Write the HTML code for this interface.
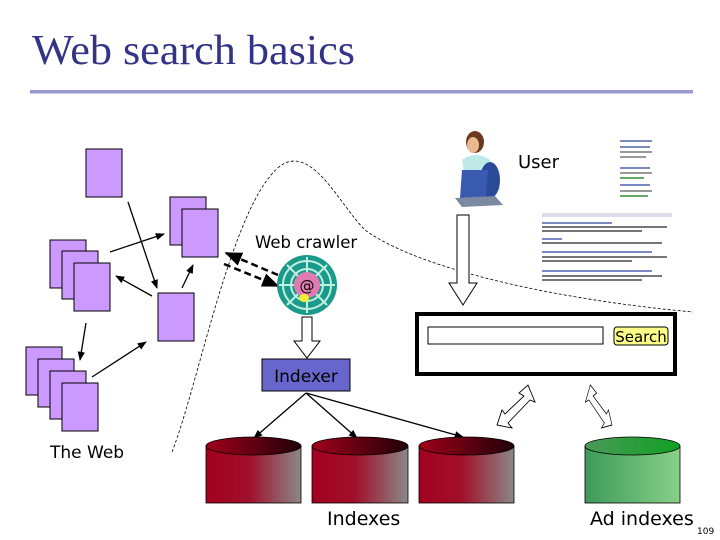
<!DOCTYPE html>
<html><head><meta charset="utf-8"><style>body{margin:0;background:#fff}svg{display:block}</style></head>
<body>
<svg width="720" height="540" viewBox="0 0 720 540" xmlns="http://www.w3.org/2000/svg" font-family="'DejaVu Sans','Liberation Sans',sans-serif">
<defs>
<marker id="ah" viewBox="0 0 10 10" refX="9" refY="5" markerWidth="7" markerHeight="7" orient="auto"><path d="M0,1 L10,5 L0,9 z" fill="#000"/></marker>
<linearGradient id="red" x1="0" x2="1"><stop offset="0" stop-color="#a30020"/><stop offset="0.45" stop-color="#a0102a"/><stop offset="1" stop-color="#8a8888"/></linearGradient>
<linearGradient id="redtop" x1="0" x2="1"><stop offset="0" stop-color="#a0001a"/><stop offset="1" stop-color="#200008"/></linearGradient>
<linearGradient id="grn" x1="0" x2="1"><stop offset="0" stop-color="#3e9a5a"/><stop offset="1" stop-color="#88d088"/></linearGradient>
<linearGradient id="grntop" x1="0" x2="1"><stop offset="0" stop-color="#4a9a5a"/><stop offset="1" stop-color="#10a020"/></linearGradient>
</defs>
<text x="32" y="64" font-family="'Liberation Serif',serif" font-size="42" fill="#333388" textLength="323" lengthAdjust="spacingAndGlyphs">Web search basics</text>
<rect x="30" y="90" width="663" height="3.5" fill="#9999cc"/>

<path d="M172,452 C200,380 235,190 285,163 C315,150 340,205 365,230 C420,270 560,300 693,312" fill="none" stroke="#000" stroke-width="0.8" stroke-dasharray="3,2"/>

<g fill="#cc99ff" stroke="#000" stroke-width="1">
<rect x="86" y="149" width="36" height="48"/>
<rect x="170" y="197" width="36" height="48"/><rect x="182" y="209" width="36" height="48"/>
<rect x="50" y="240" width="36" height="48"/><rect x="62" y="251" width="36" height="48"/><rect x="74" y="263" width="36" height="48"/>
<rect x="158" y="293" width="36" height="48"/>
<rect x="26" y="347" width="36" height="48"/><rect x="38" y="359" width="36" height="48"/><rect x="50" y="371" width="36" height="48"/><rect x="62" y="383" width="36" height="48"/>
</g>
<g stroke="#000" stroke-width="1.3" marker-end="url(#ah)">
<line x1="128" y1="202" x2="157" y2="288"/>
<line x1="110" y1="252" x2="164" y2="234"/>
<line x1="152" y1="296" x2="116" y2="276"/>
<line x1="182" y1="288" x2="193" y2="265"/>
<line x1="86" y1="323" x2="80" y2="360"/>
<line x1="92" y1="377" x2="146" y2="342"/>
</g>
<g stroke="#000" stroke-width="2.5" stroke-dasharray="7,4">
<line x1="278" y1="275" x2="226" y2="253" marker-end="url(#ah)"/>
<line x1="224" y1="264" x2="278" y2="286" marker-end="url(#ah)"/>
</g>
<text x="255" y="248" font-size="16.5">Web crawler</text>
<circle cx="307" cy="285" r="30" fill="#1a9a8a"/>
<g stroke="#bff0e0" stroke-width="2" fill="none">
<circle cx="307" cy="285" r="24"/><circle cx="307" cy="285" r="16"/>
<line x1="279" y1="285" x2="335" y2="285"/><line x1="307" y1="257" x2="307" y2="313"/>
<line x1="287" y1="265" x2="327" y2="305"/><line x1="327" y1="265" x2="287" y2="305"/>
</g>
<circle cx="307" cy="285" r="13" fill="#e07ab0"/>
<text x="307" y="291" font-size="15" text-anchor="middle" fill="#000">@</text>
<ellipse cx="304" cy="298" rx="5" ry="4" fill="#ee3"/>
<path d="M302,317 L312,317 L312,341 L320,341 L307,358 L294,341 L302,341 z" fill="#fff" stroke="#000"/>
<rect x="262" y="359" width="88" height="32" fill="#6666cc" stroke="#000"/>
<text x="306" y="382" font-size="17" text-anchor="middle" fill="#000">Indexer</text>
<g stroke="#000" stroke-width="1.3" marker-end="url(#ah)">
<line x1="306" y1="393" x2="254" y2="438"/>
<line x1="306" y1="393" x2="357" y2="438"/>
<line x1="306" y1="393" x2="463" y2="437"/>
</g>
<text x="50" y="458" font-size="17">The Web</text>

<g stroke="#000" stroke-width="0.8">
<rect x="206" y="446" width="95" height="57" fill="url(#red)"/><ellipse cx="253.5" cy="446" rx="47.5" ry="9" fill="url(#redtop)"/>
<rect x="312" y="446" width="96" height="57" fill="url(#red)"/><ellipse cx="360" cy="446" rx="48" ry="9" fill="url(#redtop)"/>
<rect x="419" y="446" width="95" height="57" fill="url(#red)"/><ellipse cx="466.5" cy="446" rx="47.5" ry="9" fill="url(#redtop)"/>
<rect x="585" y="446" width="95" height="57" fill="url(#grn)"/><ellipse cx="632.5" cy="446" rx="47.5" ry="9" fill="url(#grntop)"/>
</g>
<text x="327" y="525" font-size="19">Indexes</text>
<text x="590" y="525" font-size="19">Ad indexes</text>
<text x="697" y="534" font-size="9">109</text>

<g>
<ellipse cx="475" cy="142" rx="9" ry="11" fill="#6a3a20"/>
<path d="M462,160 Q476,150 490,160 L500,190 L468,195 z" fill="#bfe8e8"/>
<ellipse cx="490" cy="180" rx="10" ry="18" fill="#2a4a9a"/>
<polygon points="462,170 488,170 486,198 460,198" fill="#3a5ab0"/>
<polygon points="455,198 495,196 503,205 462,207" fill="#7a8aa0"/>
<ellipse cx="473" cy="145" rx="6" ry="8" fill="#e8b890"/>
</g>
<text x="518" y="168" font-size="18">User</text>
<g fill="#7a8ac0">
<rect x="620" y="140" width="32" height="2"/><rect x="620" y="146" width="30" height="2"/><rect x="620" y="151" width="32" height="2" fill="#999"/><rect x="620" y="156" width="26" height="2" fill="#999"/>
<rect x="620" y="167" width="30" height="2"/><rect x="620" y="172" width="32" height="2" fill="#999"/><rect x="620" y="177" width="24" height="2" fill="#6a6"/>
<rect x="620" y="184" width="30" height="2"/><rect x="620" y="190" width="32" height="2" fill="#999"/><rect x="620" y="195" width="28" height="2" fill="#6a6"/>
<rect x="542" y="213" width="130" height="4" fill="#dde"/>
<rect x="542" y="222" width="70" height="2"/><rect x="542" y="226" width="125" height="2" fill="#777"/><rect x="542" y="230" width="100" height="2" fill="#777"/>
<rect x="542" y="238" width="20" height="2"/><rect x="542" y="242" width="120" height="2" fill="#777"/>
<rect x="542" y="251" width="110" height="2"/><rect x="542" y="256" width="125" height="2" fill="#777"/><rect x="542" y="260" width="90" height="2" fill="#777"/>
<rect x="542" y="270" width="110" height="2"/><rect x="542" y="275" width="120" height="2" fill="#777"/><rect x="542" y="279" width="100" height="2" fill="#777"/>
</g>
<path d="M457,215 L469,215 L469,283 L477,283 L463,305 L449,283 L457,283 z" fill="#fff" stroke="#000"/>
<rect x="417" y="314" width="258" height="60" fill="#fff" stroke="#000" stroke-width="4"/>
<rect x="428" y="327" width="175" height="17" fill="#fff" stroke="#000"/>
<rect x="614" y="327" width="54" height="18" rx="3" fill="#ffff88" stroke="#000"/>
<text x="641" y="342" font-size="15" text-anchor="middle">Search</text>
<g fill="#fff" stroke="#000" stroke-width="0.9">
<path id="dbl" d="M528,385 L535,402 L530,400 L508,423 L512,428 L497,425 L502,410 L505,414 L524,396 L519,393 z"/>
<path d="M528,385 L535,402 L530,400 L508,423 L512,428 L497,425 L502,410 L505,414 L524,396 L519,393 z" transform="translate(612,0) scale(-0.7,1) translate(-497,0)"/>
</g>
</svg>
</body></html>
